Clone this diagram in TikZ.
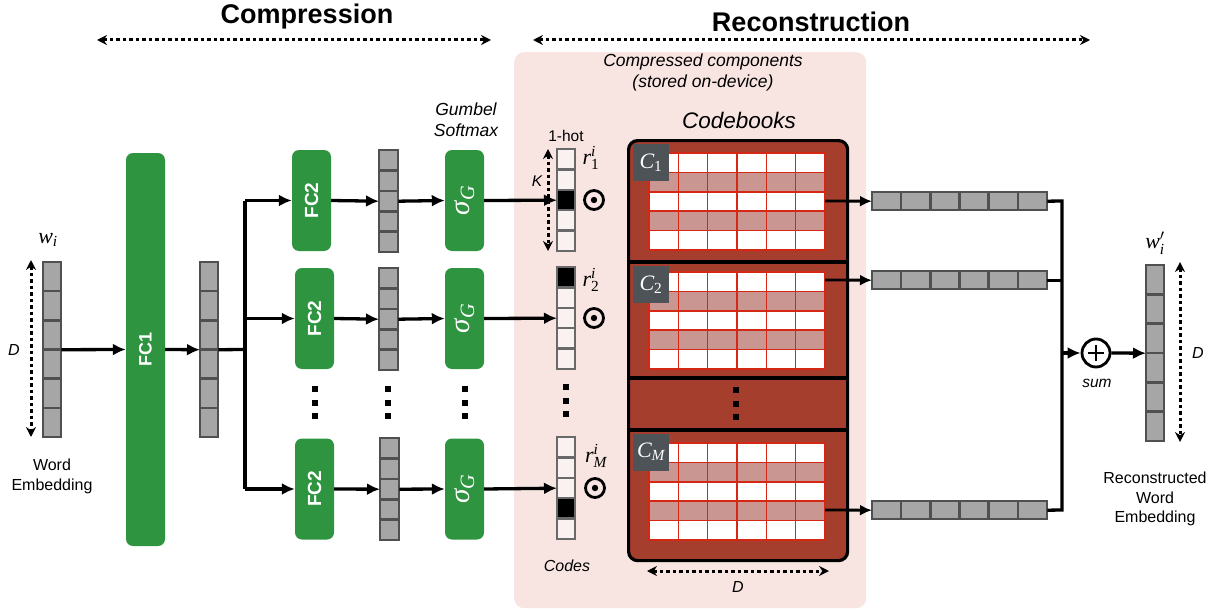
\documentclass[tikz,border=0pt]{standalone}
\usepackage{fix-cm}
\usepackage{amsmath}
\usepackage{fontspec}
\setmainfont{Liberation Sans}
\newfontfamily\tms{Liberation Serif}
\newcommand{\tv}[1]{\text{\tms\itshape #1}}
\newcommand{\tu}[1]{\text{\tms #1}}
\usetikzlibrary{arrows.meta}
\definecolor{pinkbg}{RGB}{248,229,225}
\definecolor{fcgreen}{RGB}{46,148,64}
\definecolor{cbred}{RGB}{166,62,46}
\definecolor{pinkrow}{RGB}{201,150,146}
\definecolor{gridred}{RGB}{212,40,20}
\definecolor{lblgray}{RGB}{78,83,88}
\definecolor{vgray}{RGB}{166,166,166}
\definecolor{vborder}{RGB}{80,80,80}
\definecolor{cborder}{RGB}{105,105,105}
\definecolor{codefill}{RGB}{250,242,240}
\tikzset{
  vc/.style={draw=vborder, fill=vgray, line width=2.6pt},
  cc/.style={draw=cborder, fill=codefill, line width=2.4pt},
  ccb/.style={draw=cborder, fill=black, line width=2.4pt},
  arr/.style={line width=3.3pt, -{Latex[length=13pt,width=12pt]}},
  thinarr/.style={line width=2.8pt, -{Latex[length=12pt,width=11pt]}},
  conn/.style={line width=3.3pt},
  darr/.style={line width=3pt, dash pattern=on 3.5pt off 3pt, {Stealth[length=10pt,width=10pt]}-{Stealth[length=10pt,width=10pt]}},
  gbox/.style={fill=fcgreen, rounded corners=7pt, minimum width=39pt, minimum height=101pt, inner sep=0pt, text=white},
  gridc/.style={draw=gridred, line width=1.5pt},
  lbl/.style={fill=lblgray, minimum width=36pt, minimum height=37pt, inner sep=0pt, text=white, font=\fontsize{22}{26}\selectfont},
  dotsq/.style={fill=black},
  txt/.style={inner sep=0pt, font=\fontsize{16}{19}\selectfont},
  itxt/.style={inner sep=0pt, font=\fontsize{16}{19}\selectfont\itshape},
  mtxt/.style={inner sep=0pt, font=\fontsize{22}{26}\selectfont},
}
\newcommand{\vcol}[7]{%
  \node[inner sep=0pt, minimum width={#4*1pt}, minimum height={#5*#6*1pt}, anchor=north west] (#1) at (#2,#3) {};
  \foreach \k in {1,...,#6}{\draw[#7] (#2,{#3+(\k-1)*#5}) rectangle ++(#4,#5);}
}
\newcommand{\hrowvec}[6]{%
  \node[inner sep=0pt, minimum width={#4*#6*1pt}, minimum height={#5*1pt}, anchor=north west] (#1) at (#2,#3) {};
  \foreach \k in {1,...,#6}{\draw[vc] ({#2+(\k-1)*#4},#3) rectangle ++(#4,#5);}
}
\newcommand{\cbgrid}[1]{%
  \fill[white] (649,#1) rectangle (825,{#1+97});
  \fill[pinkrow] (649,{#1+19.4}) rectangle (825,{#1+38.8});
  \fill[pinkrow] (649,{#1+58.2}) rectangle (825,{#1+77.6});
  \foreach \c in {0,...,6}{\draw[gridc] ({649+\c*29.333},#1) -- ++(0,97);}
  \foreach \r in {0,...,5}{\draw[gridc] (649,{#1+\r*19.4}) -- ++(176,0);}
}
\newcommand{\hadprod}[2]{%
  \draw[line width=2.8pt] (#1,#2) circle (9.5pt);
  \fill (#1,#2) circle (3.2pt);
}
\newcommand{\vdotsq}[2]{%
  \foreach \yy in {0,13.5,27}{\fill[dotsq] ({#1-3},{#2+\yy-3}) rectangle ++(6,6);}
}
\begin{document}
\begin{tikzpicture}[x=1pt,y=-1pt]
\useasboundingbox (0,0) rectangle (1219,610);

% titles
\node[inner sep=0pt, font=\fontsize{27}{32}\selectfont\bfseries] (tcomp) at (307,17) {Compression};
\node[inner sep=0pt, font=\fontsize{27}{32}\selectfont\bfseries] (trec) at (811,22) {Reconstruction};
\coordinate (ca) at (97,40); \coordinate (cb) at (491,40);
\draw[darr] (ca) -- (cb);
\coordinate (ra) at (533,40); \coordinate (rb) at (1090,40);
\draw[darr] (ra) -- (rb);

% pink background
\node[fill=pinkbg, rounded corners=10pt, minimum width=352pt, minimum height=556pt, anchor=north west, inner sep=0pt] (bg) at (514,52) {};
\node[itxt, font=\fontsize{17.5}{20}\selectfont\itshape] (cc1) at (703,62) {Compressed components};
\node[itxt, font=\fontsize{17.5}{20}\selectfont\itshape] (cc2) at (703,83) {(stored on-device)};

% word embedding
\vcol{we}{43}{262}{18}{29.17}{6}{vc}
\node[mtxt] (wlab) at (48,240) {$\tv{w}_{\tv{i}}$};
\coordinate (wda) at (31,260); \coordinate (wdb) at (31,437);
\draw[darr] (wda) -- (wdb);
\node[itxt] (wD) at (14,350) {D};
\node[txt] (wt1) at (52,465) {Word};
\node[txt] (wt2) at (52,486) {Embedding};

% FC1
\node[gbox, minimum height=393pt] (fc1) at (145.5,349.5) {\rotatebox{90}{\fontsize{18}{20}\selectfont\bfseries FC1}};
\draw[arr] (we.east) -- (fc1.west);
\vcol{h}{200}{262}{18}{29.17}{6}{vc}
\draw[arr] (fc1.east) -- (h.west);
\coordinate (br) at (245,349.5);
\coordinate (brA) at (245,200.5);
\coordinate (brC) at (245,489);
\draw[conn] (h.east) -- (br);
\draw[conn] (brA) -- (brC);

% rows of FC2 / vec / sigma
\node[gbox] (fcA) at (311.5,200.5) {\rotatebox{90}{\fontsize{19}{20}\selectfont\bfseries FC2}};
\node[gbox] (fcB) at (314.5,318.5) {\rotatebox{90}{\fontsize{19}{20}\selectfont\bfseries FC2}};
\node[gbox] (fcC) at (314.5,489) {\rotatebox{90}{\fontsize{19}{20}\selectfont\bfseries FC2}};
\draw[arr] (brA) -- (fcA.west);
\draw[arr] (br |- fcB.west) -- (fcB.west);
\draw[arr] (brC) -- (fcC.west);

\vcol{vA}{379}{150}{19}{20.4}{5}{vc}
\vcol{vB}{379}{268}{19}{20.4}{5}{vc}
\vcol{vC}{380}{438}{19}{20.4}{5}{vc}
\draw[arr] (fcA.east) -- (vA.west);
\draw[arr] (fcB.east) -- (vB.west);
\draw[arr] (fcC.east) -- (vC.west);

\node[gbox] (sA) at (464.5,200.5) {\rotatebox{90}{\fontsize{29}{30}\selectfont$\tv{σ}_{\tv{G}}$}};
\node[gbox] (sB) at (464.5,318.5) {\rotatebox{90}{\fontsize{29}{30}\selectfont$\tv{σ}_{\tv{G}}$}};
\node[gbox] (sC) at (464.5,489) {\rotatebox{90}{\fontsize{29}{30}\selectfont$\tv{σ}_{\tv{G}}$}};
\draw[arr] (vA.east) -- (sA.west);
\draw[arr] (vB.east) -- (sB.west);
\draw[arr] (vC.east) -- (sC.west);
\node[itxt, font=\fontsize{17.5}{20}\selectfont\itshape] (gum1) at (466,109) {Gumbel};
\node[itxt, font=\fontsize{17.5}{20}\selectfont\itshape] (gum2) at (466,130) {Softmax};

\vdotsq{315}{389}
\vdotsq{388}{389}
\vdotsq{465}{389}

% codes
\vcol{rA}{557}{149}{18}{20.4}{5}{cc}
\draw[ccb] (557,{149+2*20.4}) rectangle ++(18,20.4);
\vcol{rB}{557}{267}{18}{20.4}{5}{cc}
\draw[ccb] (557,267) rectangle ++(18,20.4);
\vcol{rC}{557}{437}{18}{20.4}{5}{cc}
\draw[ccb] (557,{437+3*20.4}) rectangle ++(18,20.4);
\draw[arr] (sA.east) -- (rA.west);
\draw[arr] (sB.east) -- (rB.west);
\draw[arr] (sC.east) -- (rC.west);
\node[txt, font=\fontsize{15.5}{18}\selectfont] (onehot) at (566,136) {1-hot};
\coordinate (ka) at (548,149); \coordinate (kb) at (548,251);
\draw[darr] (ka) -- (kb);
\node[itxt, font=\fontsize{15.5}{18}\selectfont\itshape, fill=pinkbg] (klab) at (537,181) {K};
\node[mtxt] (r1) at (591,158) {$\tv{r}_{\tu{1}}^{\tv{i}}$};
\node[mtxt] (r2) at (591,280) {$\tv{r}_{\tu{2}}^{\tv{i}}$};
\node[mtxt] (rM) at (596,456) {$\tv{r}_{\tv{M}}^{\tv{i}}$};
\hadprod{594}{200}
\hadprod{594}{318}
\hadprod{595}{488}
\vdotsq{566}{387}
\node[itxt] (codes) at (567,566) {Codes};

% codebooks
\node[itxt, font=\fontsize{22.5}{26}\selectfont\itshape] (cbt) at (739,120) {Codebooks};
\node[draw=black, line width=3.2pt, fill=cbred, rounded corners=9pt, minimum width=219pt, minimum height=420pt, anchor=north west, inner sep=0pt] (cbk) at (627,139) {};
\draw[line width=3.2pt] (cbk.west |- 0,262) -- (cbk.east |- 0,262);
\draw[line width=3.2pt] (cbk.west |- 0,378) -- (cbk.east |- 0,378);
\draw[line width=3.2pt] (cbk.west |- 0,430) -- (cbk.east |- 0,430);
\cbgrid{153}
\cbgrid{272}
\cbgrid{443}
\node[lbl] (c1) at (651,162.5) {$\tv{C}_{\tu{1}}$};
\node[lbl] (c2) at (651,284.5) {$\tv{C}_{\tu{2}}$};
\node[lbl] (cM) at (651,452) {$\tv{C}_{\tv{M}}$};
\vdotsq{736}{390}
\coordinate (dca) at (647,571); \coordinate (dcb) at (829,571);
\draw[darr] (dca) -- (dcb);
\node[itxt] (cbD) at (738,587) {D};

% output strips
\hrowvec{sa}{872}{192}{29.17}{18}{6}
\hrowvec{sb}{872}{271}{29.17}{18}{6}
\hrowvec{sc}{872}{501}{29.17}{18}{6}
\coordinate (g1) at (825,201);
\coordinate (g2) at (825,280);
\coordinate (g3) at (825,510);
\draw[thinarr] (g1) -- (sa.west);
\draw[thinarr] (g2) -- (sb.west);
\draw[thinarr] (g3) -- (sc.west);
\coordinate (jA) at (1062,201);
\coordinate (jC) at (1062,510);
\coordinate (jM) at (1062,353);
\draw[conn] (sa.east) -- (jA) -- (jC) -- (sc.east);
\draw[conn] (sb.east) -- (sb.east -| jA);

% sum
\node[draw, circle, line width=2.8pt, minimum size=28pt, inner sep=0pt] (sum) at (1096,353) {};
\draw[line width=2.8pt] (1088,353) -- (1104,353) (1096,345) -- (1096,361);
\draw[arr] (jM) -- (sum.west);
\node[itxt, font=\fontsize{15.5}{18}\selectfont\itshape] (sumt) at (1097,383) {sum};
\vcol{out}{1146}{265}{18}{29.33}{6}{vc}
\draw[arr] (sum.east) -- (out.west);
\node[mtxt] (wout) at (1155,243) {$\tv{w}'_{\tv{i}}$};
\coordinate (oda) at (1180,262); \coordinate (odb) at (1180,442);
\draw[darr] (oda) -- (odb);
\node[itxt] (oD) at (1198,353) {D};
\node[txt] (ot1) at (1155,478) {Reconstructed};
\node[txt] (ot2) at (1155,498) {Word};
\node[txt] (ot3) at (1155,518) {Embedding};
\end{tikzpicture}
\end{document}
